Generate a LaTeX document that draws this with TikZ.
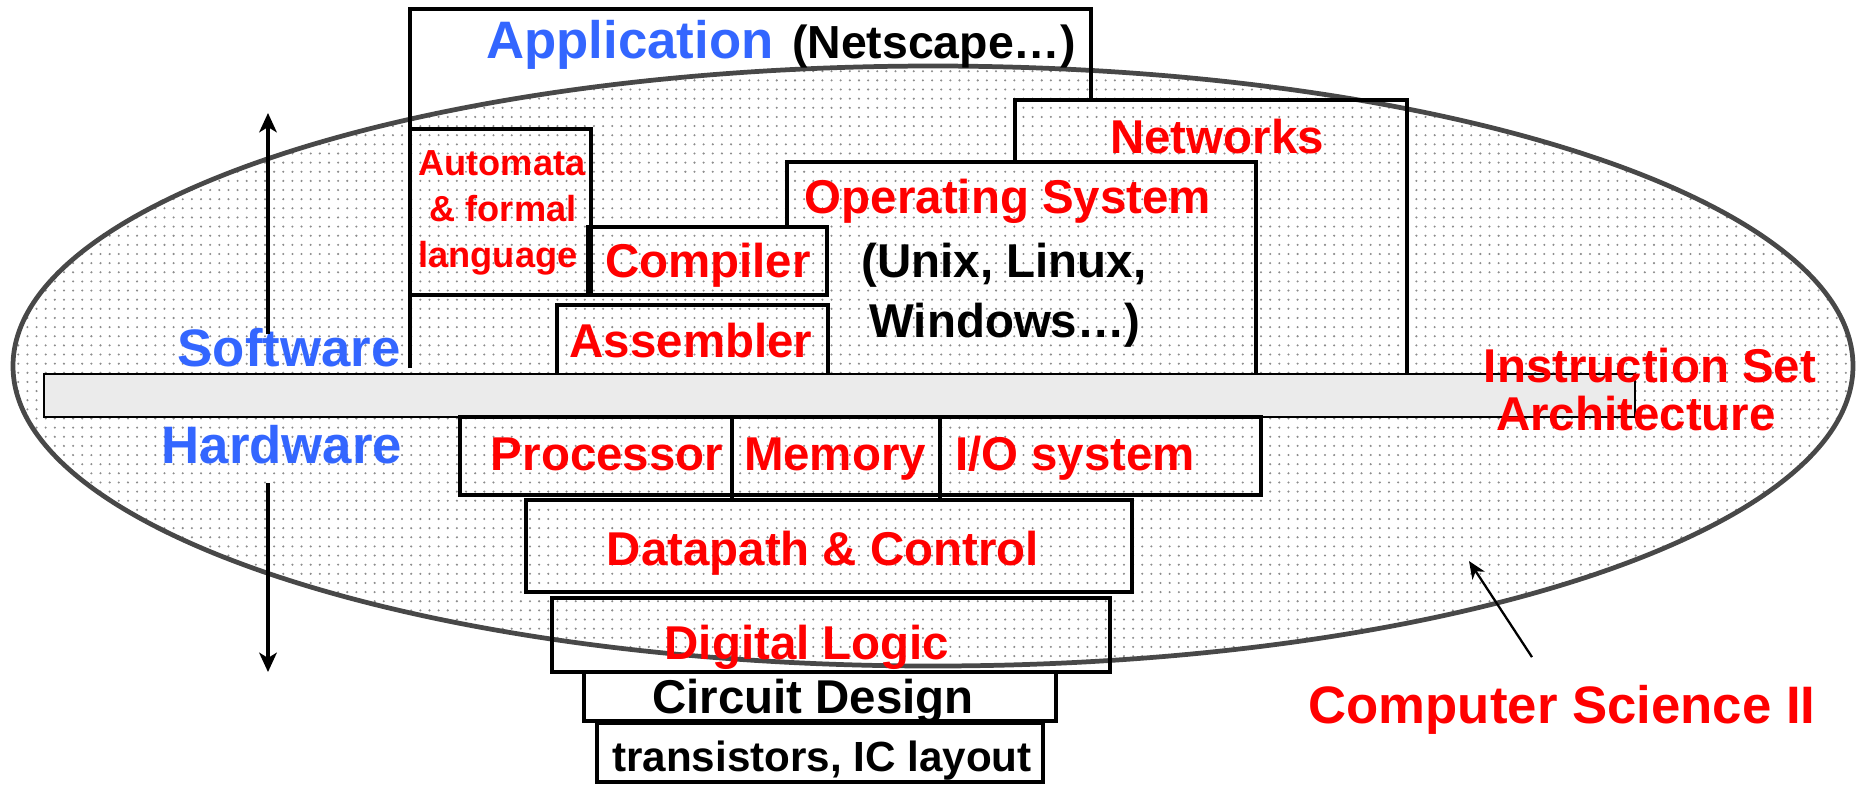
\documentclass[tikz,border=0pt]{standalone}
\usepackage{fontspec}
\setmainfont{Liberation Sans}
\usetikzlibrary{arrows.meta,patterns}

\definecolor{swblue}{RGB}{51,102,255}
\definecolor{ovalgray}{RGB}{72,72,72}

% fine dot raster for the oval
\pgfdeclarepatternformonly{fine dots}{\pgfpoint{-0.5pt}{-0.5pt}}{\pgfpoint{0.5pt}{0.5pt}}{\pgfpoint{2.6pt}{2.6pt}}{%
  \pgfpathcircle{\pgfpointorigin}{0.33pt}\pgfusepath{fill}}

\begin{document}
\begin{tikzpicture}[scale=1]
    % Styles
    \tikzset{
      layer/.style={draw, line width=1.3pt},
      red label/.style={text=red, font=\bfseries\fontsize{13.5}{16}\selectfont, inner sep=0pt, anchor=base},
      black label/.style={red label, text=black},
      blue label/.style={red label, text=swblue, font=\bfseries\fontsize{15}{18}\selectfont},
      small label/.style={red label, font=\bfseries\fontsize{10.3}{12}\selectfont},
      updown/.style={line width=0.9pt, -{Stealth[length=5.5pt,width=5pt,inset=1.5pt]}}
    }

    \fill[white] (0,0) rectangle (18.58,-7.84);
    \useasboundingbox (0,0) rectangle (18.58,-7.84);

    % --- Oval: Computer Science II ---
    \draw[ovalgray, line width=1.35pt, pattern=fine dots, pattern color=black!45]
      (9.33,-3.66) ellipse [x radius=9.20, y radius=3.00];

    % --- Instruction set bar ---
    \draw[line width=0.6pt, fill=black!8] (0.44,-3.74) rectangle (16.35,-4.17);

    % --- Software layers ---
    \draw[layer] (4.10,-3.68) -- (4.10,-0.09) -- (10.91,-0.09) -- (10.91,-1.00);
    \draw[layer] (10.15,-1.62) -- (10.15,-1.00) -- (14.07,-1.00) -- (14.07,-3.74);
    \draw[layer] (7.87,-2.27) -- (7.87,-1.62) -- (12.56,-1.62) -- (12.56,-3.74);
    \draw[layer] (4.10,-1.29) rectangle (5.91,-2.95);
    \draw[layer] (5.88,-2.27) rectangle (8.27,-2.95);
    \draw[layer] (5.57,-3.74) -- (5.57,-3.05) -- (8.28,-3.05) -- (8.28,-3.74);

    % --- Hardware layers ---
    \draw[layer] (4.60,-4.17) rectangle (12.61,-4.95);
    \draw[layer] (7.32,-4.17) -- (7.32,-5.00);
    \draw[layer] (9.40,-4.17) -- (9.40,-5.00);
    \draw[layer] (5.26,-5.00) rectangle (11.32,-5.92);
    \draw[layer] (5.52,-5.98) rectangle (11.10,-6.72);
    \draw[layer, fill=white] (5.84,-6.72) rectangle (10.56,-7.21);
    \draw[layer, fill=white] (5.97,-7.23) rectangle (10.43,-7.82);

    % --- Labels above the bar ---
    \node[blue label] (app) at (6.30,-0.58) {Application};
    \node[black label, font=\bfseries\fontsize{13.2}{16}\selectfont] (netscape) at (9.34,-0.58) {(Netscape…)};
    \node[red label] (net) at (12.17,-1.53) {Networks};
    \node[red label] (os) at (10.08,-2.13) {Operating System};
    \node[black label] (unix) at (10.04,-2.77) {(Unix, Linux,};
    \node[black label] (win) at (10.05,-3.37) {Windows…)};
    \node[small label] (auto) at (5.02,-1.75) {Automata};
    \node[small label] (formal) at (5.03,-2.21) {\& formal};
    \node[small label] (lang) at (4.98,-2.67) {language};
    \node[red label] (comp) at (7.08,-2.77) {Compiler};
    \node[red label] (asm) at (6.91,-3.57) {Assembler};
    \node[blue label] (sw) at (2.89,-3.66) {Software};
    \node[red label] (isa) at (16.50,-3.82) {Instruction Set};
    \node[red label] (arch) at (16.36,-4.30) {Architecture};

    % --- Labels below the bar ---
    \node[blue label] (hw) at (2.82,-4.63) {Hardware};
    \node[red label] (proc) at (6.07,-4.70) {Processor};
    \node[red label] (mem) at (8.35,-4.70) {Memory};
    \node[red label] (io) at (10.75,-4.70) {I/O system};
    \node[red label] (dp) at (8.23,-5.65) {Datapath \& Control};
    \node[red label] (dl) at (8.07,-6.59) {Digital Logic};
    \node[black label] (cd) at (8.13,-7.13) {Circuit Design};
    \node[black label, font=\bfseries\fontsize{12}{14}\selectfont] (tr) at (8.22,-7.71) {transistors, IC layout};
    \node[red label, font=\bfseries\fontsize{15}{18}\selectfont] (cs) at (15.62,-7.23) {Computer Science II};

    % --- Arrows ---
    \coordinate (swtip) at (2.68,-1.13);
    \coordinate (hwtip) at (2.68,-6.72);
    \coordinate (cstip) at (14.69,-5.61);
    \draw[updown, shorten <=-2pt] (sw.north -| swtip) -- (swtip);
    \draw[updown, shorten <=5.4pt] (hw.south -| hwtip) -- (hwtip);
    \draw[line width=0.65pt, -{Stealth[length=5pt,width=4.2pt,inset=1.5pt]}] ([shift={(-0.30,0.27)}]cs.north) -- (cstip);

  \end{tikzpicture}
\end{document}
